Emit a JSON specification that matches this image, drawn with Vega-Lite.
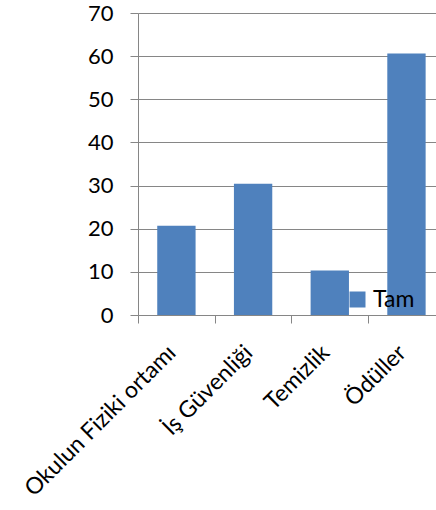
{
  "$schema": "https://vega.github.io/schema/vega-lite/v6.json",
  "autosize": {"type": "none"},
  "width": 298,
  "height": 302,
  "padding": {"left": 138, "top": 13, "right": 0, "bottom": 195},
  "background": "white",
  "config": {
    "view": {"stroke": null},
    "font": "Lato",
    "axis": {"labelFont": "Lato", "labelColor": "#000000", "domainColor": "#868686", "tickColor": "#868686", "gridColor": "#868686", "domainWidth": 1, "tickWidth": 1, "gridWidth": 1}
  },
  "data": {
    "values": [
      {"category": "Okulun Fiziki ortamı", "value": 20.7, "series": "Tam"},
      {"category": "İş Güvenliği", "value": 30.4, "series": "Tam"},
      {"category": "Temizlik", "value": 10.3, "series": "Tam"},
      {"category": "Ödüller", "value": 60.6, "series": "Tam"}
    ]
  },
  "mark": {"type": "bar"},
  "encoding": {
    "x": {
      "field": "category",
      "type": "nominal",
      "sort": null,
      "scale": {"paddingInner": 0.5, "paddingOuter": 0.193, "align": 0.65},
      "axis": {"title": null, "labelAngle": -45, "labelAlign": "right", "labelBaseline": "top", "labelFontSize": 23, "labelPadding": 18, "labelLimit": 500, "tickSize": 8, "tickOffset": -38.35, "labelOffset": 26, "labelBound": false, "labelOverlap": false}
    },
    "y": {
      "field": "value",
      "type": "quantitative",
      "scale": {"domain": [0, 70], "nice": false},
      "axis": {"title": null, "values": [0, 10, 20, 30, 40, 50, 60, 70], "labelFontSize": 22, "tickSize": 8, "labelPadding": 17, "grid": true}
    },
    "color": {
      "field": "series",
      "type": "nominal",
      "scale": {"range": ["#4F81BD"]},
      "legend": {"title": null, "orient": "none", "legendX": 208, "legendY": 275, "padding": 0, "symbolType": "square", "symbolSize": 256, "symbolStrokeWidth": 0, "labelFontSize": 23, "labelOffset": 4, "labelColor": "#000000", "labelFont": "Lato"}
    }
  }
}
